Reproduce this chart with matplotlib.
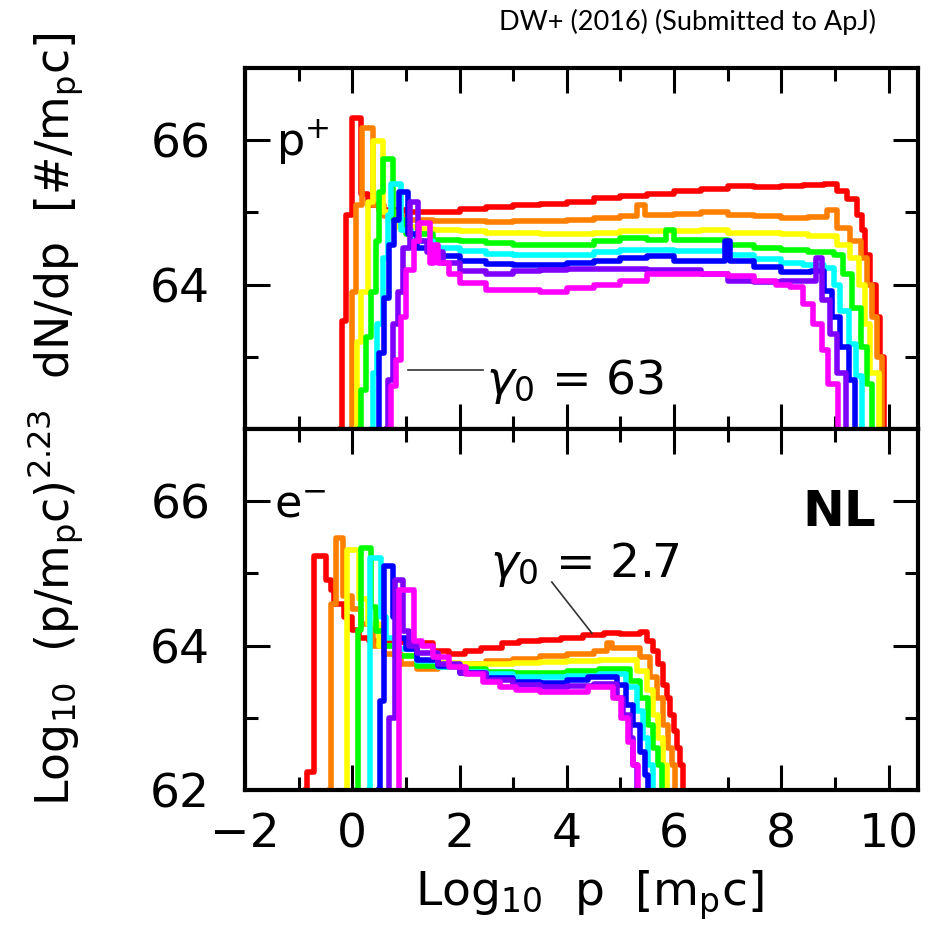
import matplotlib
matplotlib.use("Agg")
import matplotlib.pyplot as plt
from matplotlib.ticker import MultipleLocator

plt.rcParams["font.family"] = ["DejaVu Sans"]
plt.rcParams["mathtext.fontset"] = "dejavusans"

colors = ["#ff0000", "#ff8000", "#ffff00", "#00ff00",
          "#00ffff", "#0000ff", "#8000ff", "#ff00ff"]

# ---- top panel (p+), log10 p vs log10 (p^2.23 dN/dp) ----
p_red_x = [-0.21, -0.20, -0.12, 0.00, 0.16, 0.30, 0.50, 1.0, 1.5, 2.0, 2.5, 3.0, 3.5, 4.0, 4.5, 5.0, 5.5,
           6.0, 6.5, 7.0, 7.5, 8.0, 8.4, 8.79, 9.04, 9.23, 9.42, 9.51, 9.57, 9.66, 9.76, 9.85, 9.91]
p_red_y = [62.0, 63.5, 64.96, 66.31, 65.25, 65.1, 65.03, 65.0, 65.0, 65.05, 65.07, 65.1, 65.12, 65.15, 65.2,
           65.23, 65.26, 65.3, 65.33, 65.36, 65.35, 65.37, 65.38, 65.4, 65.3, 65.19, 64.97, 64.75, 64.41,
           64.0, 63.55, 63.0, 62.0]

p_orange_x = [-0.01, 0.0, 0.07, 0.19, 0.38, 0.6, 1.0, 1.5, 2.0, 2.5, 3.0, 3.5, 4.0, 4.5, 5.0, 5.3, 5.45,
              6.0, 6.5, 7.0, 7.5, 8.0, 8.5, 8.85, 9.04, 9.29, 9.48, 9.6, 9.69, 9.79, 9.88]
p_orange_y = [62.0, 63.9, 65.1, 66.17, 65.1, 64.95, 64.9, 64.88, 64.88, 64.87, 64.88, 64.88, 64.9, 64.92,
              64.95, 65.1, 64.96, 64.98, 65.0, 64.96, 64.95, 64.92, 64.93, 65.03, 64.78, 64.6, 64.37, 64.0,
              63.55, 63.0, 62.0]

p_yellow_x = [0.07, 0.08, 0.16, 0.29, 0.38, 0.57, 0.8, 1.2, 1.5, 2.0, 2.5, 3.0, 3.5, 4.0, 4.5, 5.0, 5.5,
              6.0, 6.5, 7.0, 7.5, 8.0, 8.5, 9.04, 9.29, 9.45, 9.57, 9.66, 9.82]
p_yellow_y = [62.0, 63.2, 63.9, 65.15, 65.99, 65.0, 64.8, 64.77, 64.76, 64.74, 64.72, 64.72, 64.7, 64.7,
              64.72, 64.74, 64.74, 64.74, 64.75, 64.72, 64.72, 64.7, 64.68, 64.55, 64.37, 64.0, 63.46,
              62.77, 62.0]

p_green_x = [0.15, 0.16, 0.26, 0.35, 0.44, 0.50, 0.57, 0.75, 1.0, 1.5, 2.0, 2.5, 3.0, 3.5, 4.0, 4.5, 5.0,
             5.5, 5.85, 6.0, 6.5, 7.0, 7.5, 8.0, 8.5, 8.98, 9.16, 9.32, 9.48, 9.6, 9.7]
p_green_y = [62.0, 62.54, 63.27, 63.9, 64.6, 65.28, 65.74, 64.9, 64.7, 64.62, 64.6, 64.57, 64.55, 64.55,
             64.55, 64.6, 64.65, 64.62, 64.75, 64.62, 64.62, 64.55, 64.5, 64.48, 64.45, 64.41, 64.14,
             63.68, 63.14, 62.63, 62.0]

p_cyan_x = [0.37, 0.38, 0.47, 0.57, 0.66, 0.72, 0.91, 1.1, 1.5, 2.0, 2.5, 3.0, 3.5, 4.0, 4.5, 5.0, 5.5,
            6.0, 6.5, 7.0, 7.5, 8.0, 8.4, 8.79, 8.98, 9.1, 9.26, 9.39, 9.51]
p_cyan_y = [62.0, 62.77, 63.45, 64.37, 64.96, 65.4, 64.75, 64.6, 64.5, 64.47, 64.43, 64.41, 64.41, 64.41,
            64.45, 64.48, 64.48, 64.47, 64.47, 64.41, 64.35, 64.3, 64.27, 64.23, 64.0, 63.64, 63.18,
            62.73, 62.0]

p_blue_x = [0.49, 0.50, 0.60, 0.69, 0.78, 0.88, 1.03, 1.2, 1.5, 2.0, 2.5, 3.0, 3.5, 4.0, 4.5, 5.0, 5.5,
            6.0, 6.5, 6.95, 7.05, 7.5, 8.0, 8.55, 8.79, 8.95, 9.1, 9.26, 9.38]
p_blue_y = [62.0, 63.05, 63.82, 64.55, 64.9, 65.28, 64.7, 64.5, 64.4, 64.33, 64.28, 64.27, 64.27, 64.3,
            64.33, 64.37, 64.4, 64.33, 64.33, 64.6, 64.33, 64.25, 64.17, 64.19, 63.91, 63.55, 63.14,
            62.68, 62.0]

p_purple_x = [0.65, 0.66, 0.75, 0.85, 0.95, 1.07, 1.22, 1.4, 1.7, 2.0, 2.5, 3.0, 3.5, 4.0, 4.5, 5.0, 5.5,
              6.0, 6.5, 7.0, 7.5, 8.0, 8.35, 8.64, 8.76, 8.91, 9.04, 9.2]
p_purple_y = [62.0, 62.68, 63.45, 63.9, 64.5, 65.15, 64.6, 64.45, 64.3, 64.19, 64.15, 64.19, 64.2, 64.22,
              64.22, 64.21, 64.2, 64.2, 64.14, 64.05, 64.03, 64.05, 64.05, 64.37, 63.78, 63.32, 62.77,
              62.0]

p_magenta_x = [0.71, 0.72, 0.82, 0.90, 1.0, 1.15, 1.25, 1.44, 1.52, 1.6, 1.8, 2.0, 2.5, 3.0, 3.5, 4.0,
               4.5, 5.0, 5.5, 6.0, 6.5, 7.0, 7.5, 7.9, 8.16, 8.41, 8.6, 8.76, 8.88, 9.05]
p_magenta_y = [62.0, 62.6, 62.95, 63.55, 64.2, 64.6, 64.85, 64.3, 64.55, 64.3, 64.15, 64.02, 63.93, 63.92,
               63.9, 63.95, 64.0, 64.05, 64.14, 64.14, 64.14, 64.12, 64.05, 64.0, 63.96, 63.73, 63.46,
               63.09, 62.63, 62.0]

# ---- bottom panel (e-) ----
e_red_x = [-0.86, -0.84, -0.72, -0.49, -0.40, -0.34, -0.15, 0.0, 0.13, 0.32, 0.6, 1.0, 1.5, 1.8, 2.1,
           2.4, 2.8, 3.1, 3.5, 3.9, 4.3, 4.7, 5.0, 5.36, 5.49, 5.61, 5.71, 5.8, 5.86, 5.93, 5.99, 6.05,
           6.11, 6.17]
e_red_y = [62.0, 62.25, 65.24, 64.91, 64.77, 64.58, 64.4, 64.21, 64.1, 64.07, 64.05, 64.03, 63.92, 63.89,
           63.92, 63.97, 64.03, 64.07, 64.08, 64.1, 64.14, 64.17, 64.16, 64.19, 64.07, 63.93, 63.74,
           63.46, 63.28, 63.04, 62.81, 62.58, 62.35, 62.0]

e_orange_x = [-0.41, -0.40, -0.30, -0.18, 0.0, 0.16, 0.38, 0.6, 0.9, 1.2, 1.6, 2.0, 2.5, 3.0, 3.5, 4.0,
              4.5, 4.75, 4.85, 5.36, 5.55, 5.68, 5.8, 5.89, 5.96, 6.02]
e_orange_y = [62.0, 64.58, 65.49, 64.68, 64.5, 64.3, 64.0, 63.88, 63.75, 63.68, 63.7, 63.74, 63.78, 63.82,
              63.86, 63.88, 63.92, 64.03, 63.97, 63.84, 63.56, 63.28, 62.9, 62.58, 62.35, 62.0]

e_yellow_x = [-0.10, -0.09, 0.13, 0.3, 0.5, 0.8, 1.2, 1.6, 2.0, 2.5, 3.0, 3.5, 4.0, 4.6, 5.3, 5.49, 5.61,
              5.71, 5.8, 5.86]
e_yellow_y = [62.0, 65.33, 64.65, 64.3, 64.0, 63.85, 63.78, 63.76, 63.74, 63.74, 63.76, 63.77, 63.79, 63.8,
              63.65, 63.38, 63.04, 62.72, 62.35, 62.0]

e_green_x = [0.09, 0.10, 0.16, 0.35, 0.45, 0.6, 0.8, 1.2, 1.6, 2.0, 2.5, 3.0, 3.5, 4.0, 4.6, 5.18, 5.36,
             5.52, 5.61, 5.71, 5.77]
e_green_y = [62.0, 64.21, 65.35, 64.53, 64.2, 64.0, 63.85, 63.72, 63.70, 63.67, 63.64, 63.62, 63.62, 63.65,
             63.68, 63.51, 63.28, 62.9, 62.58, 62.35, 62.0]

e_cyan_x = [0.31, 0.33, 0.54, 0.62, 0.8, 1.2, 1.6, 2.0, 2.5, 3.0, 3.5, 4.0, 4.6, 5.11, 5.3, 5.43, 5.52,
            5.61]
e_cyan_y = [62.0, 65.21, 64.4, 64.1, 63.95, 63.78, 63.70, 63.64, 63.6, 63.57, 63.56, 63.58, 63.6, 63.42,
            63.09, 62.72, 62.35, 62.0]

e_blue_x = [0.50, 0.51, 0.60, 0.75, 0.85, 1.0, 1.2, 1.6, 2.0, 2.5, 3.0, 3.5, 4.0, 4.4, 4.93, 5.11, 5.24,
            5.36, 5.46, 5.52]
e_blue_y = [62.0, 63.23, 65.1, 64.4, 64.1, 63.95, 63.8, 63.72, 63.62, 63.55, 63.5, 63.48, 63.52, 63.56,
            63.46, 63.18, 62.9, 62.53, 62.21, 62.0]

e_purple_x = [0.68, 0.69, 0.79, 0.94, 1.05, 1.2, 1.6, 2.0, 2.5, 3.0, 3.5, 4.0, 4.5, 4.93, 5.05, 5.18,
              5.24, 5.3]
e_purple_y = [62.0, 63.0, 64.91, 64.2, 64.0, 63.9, 63.75, 63.62, 63.52, 63.45, 63.42, 63.44, 63.47, 63.28,
              63.04, 62.72, 62.35, 62.0]

e_magenta_x = [0.87, 0.88, 1.16, 1.3, 1.5, 1.81, 2.12, 2.43, 2.75, 3.06, 3.5, 4.0, 4.4, 4.86, 5.02, 5.14,
               5.24, 5.33]
e_magenta_y = [62.0, 64.77, 64.07, 64.0, 63.84, 63.7, 63.6, 63.49, 63.42, 63.38, 63.36, 63.36, 63.42,
               63.28, 62.99, 62.67, 62.35, 62.0]

top_curves = [(p_red_x, p_red_y), (p_orange_x, p_orange_y), (p_yellow_x, p_yellow_y),
              (p_green_x, p_green_y), (p_cyan_x, p_cyan_y), (p_blue_x, p_blue_y),
              (p_purple_x, p_purple_y), (p_magenta_x, p_magenta_y)]
bottom_curves = [(e_red_x, e_red_y), (e_orange_x, e_orange_y), (e_yellow_x, e_yellow_y),
                 (e_green_x, e_green_y), (e_cyan_x, e_cyan_y), (e_blue_x, e_blue_y),
                 (e_purple_x, e_purple_y), (e_magenta_x, e_magenta_y)]

fig = plt.figure(figsize=(9.36, 9.42), dpi=100)
ax1 = fig.add_axes([0.2618, 0.5446, 0.7190, 0.3832])
ax2 = fig.add_axes([0.2618, 0.1614, 0.7190, 0.3832])

for ax, curves in [(ax1, top_curves), (ax2, bottom_curves)]:
    for (x, y), c in zip(curves, colors):
        ax.plot(x, y, drawstyle="steps-post", color=c, lw=4)
    ax.set_xlim(-2.0, 10.55)
    ax.set_ylim(62, 67)
    ax.xaxis.set_major_locator(MultipleLocator(2))
    ax.xaxis.set_minor_locator(MultipleLocator(1))
    ax.set_yticks([63, 65], minor=True)
    ax.tick_params(which="both", direction="in", top=True, right=True, width=2.2)
    ax.tick_params(which="major", length=18, labelsize=34)
    ax.tick_params(which="minor", length=9.5)
    ax.tick_params(axis="x", which="major", pad=16)
    ax.tick_params(axis="y", which="major", pad=25)
    for s in ax.spines.values():
        s.set_linewidth(3)

ax1.set_yticks([64, 66])
ax1.tick_params(labelbottom=False)
ax2.set_yticks([62, 64, 66])

# annotations
ax1.text(-1.42, 65.78, r"p$^{+}$", fontsize=32)
ax1.plot([1.03, 2.43], [62.82, 62.82], color="#333333", lw=1.2)
ax1.text(2.5, 62.49, r"$\gamma_0$ = 63", fontsize=34)

ax2.text(-1.46, 65.78, r"e$^{-}$", fontsize=32)
ax2.text(9.76, 65.65, "NL", fontsize=36, fontweight="bold", ha="right")
ax2.plot([3.72, 4.47], [64.88, 64.17], color="#333333", lw=1.2)
ax2.text(2.56, 64.95, r"$\gamma_0$ = 2.7", fontsize=34)

fig.text(0.06, 0.555, r"Log$_{10}$  (p/m$_\mathrm{p}$c)$^{2.23}$  dN/dp  [#/m$_\mathrm{p}$c]",
         rotation=90, ha="center", va="center", fontsize=33)
fig.text(0.63, 0.05, r"Log$_{10}$  p  [m$_\mathrm{p}$c]", ha="center", va="center", fontsize=34)
fig.text(0.735, 0.977, "DW+ (2016) (Submitted to ApJ)", ha="center", va="center",
         fontsize=19.5, family="Lato")

fig.savefig("out.png", dpi=100)
